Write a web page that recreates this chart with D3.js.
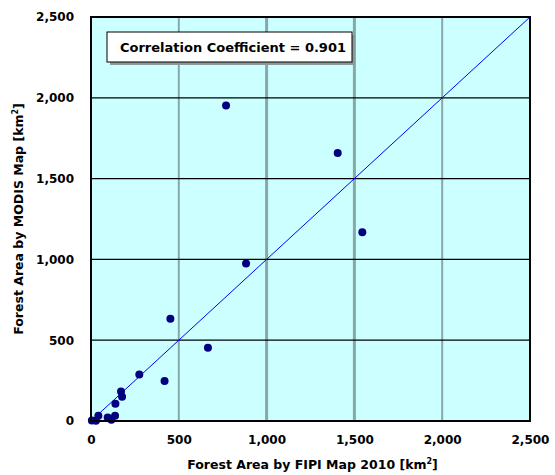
<!DOCTYPE html>
<html>
<head>
<meta charset="utf-8">
<script src="https://cdn.jsdelivr.net/npm/d3@7"></script>
<style>
  body { margin: 0; background: #fff; }
  svg text { font-family: "DejaVu Sans", Verdana, sans-serif; font-weight: bold; }
</style>
</head>
<body>
<div id="chart"></div>
<script>
// values (km2)
const fipiArea  = [5, 28, 42, 95, 116, 137, 139, 171, 177, 275, 419, 452, 666, 769, 883, 1405, 1545];
const modisArea = [3, 2, 33, 22, 8, 33, 107, 183, 150, 288, 248, 633, 454, 1952, 975, 1658, 1168];
const tickValues = [0, 500, 1000, 1500, 2000, 2500];
const corrText = "Correlation Coefficient = 0.901";

const points = fipiArea.map((x, i) => ({x: x, y: modisArea[i]}));

const width = 555, height = 475;
const margin = {top: 17, right: 25, bottom: 54, left: 91};
const innerWidth = width - margin.left - margin.right;
const innerHeight = height - margin.top - margin.bottom;

const svg = d3.select("#chart")
  .append("svg")
  .attr("width", width)
  .attr("height", height);

const innerChart = svg.append("g")
  .attr("transform", `translate(${margin.left},${margin.top})`);

const xScale = d3.scaleLinear().domain([0, 2500]).range([0, innerWidth]);
const yScale = d3.scaleLinear().domain([0, 2500]).range([innerHeight, 0]);

// plot background
innerChart.append("rect")
  .attr("width", innerWidth)
  .attr("height", innerHeight)
  .attr("fill", "#ccffff");

// vertical grid (greyish), horizontal grid (black)
innerChart.selectAll(".vgrid")
  .data(tickValues.slice(1, -1))
  .join("line")
    .attr("class", "vgrid")
    .attr("x1", d => xScale(d)).attr("x2", d => xScale(d))
    .attr("y1", 0).attr("y2", innerHeight)
    .attr("stroke", "#88a8a8")
    .attr("stroke-width", d => (d === 1000 || d === 1500) ? 3 : 2);

innerChart.selectAll(".hgrid")
  .data(tickValues.slice(1, -1))
  .join("line")
    .attr("class", "hgrid")
    .attr("x1", 0).attr("x2", innerWidth)
    .attr("y1", d => yScale(d)).attr("y2", d => yScale(d))
    .attr("stroke", "#000")
    .attr("stroke-width", 1.2);

// 1:1 line
innerChart.append("line")
  .attr("x1", xScale(0)).attr("y1", yScale(0))
  .attr("x2", xScale(2500)).attr("y2", yScale(2500))
  .attr("stroke", "#0000ff")
  .attr("stroke-width", 1);

// points
innerChart.selectAll("circle")
  .data(points)
  .join("circle")
    .attr("cx", d => xScale(d.x))
    .attr("cy", d => yScale(d.y))
    .attr("r", 4)
    .attr("fill", "#000080");

// frame
innerChart.append("rect")
  .attr("width", innerWidth)
  .attr("height", innerHeight)
  .attr("fill", "none")
  .attr("stroke", "#000")
  .attr("stroke-width", 2);

// axes (labels only)
const fmt = d3.format(",");
const xAxis = d3.axisBottom(xScale).tickValues(tickValues).tickFormat(fmt).tickSize(0).tickPadding(14);
const yAxis = d3.axisLeft(yScale).tickValues(tickValues).tickFormat(fmt).tickSize(0).tickPadding(17);

innerChart.append("g")
  .attr("class", "the-x-axis")
  .attr("transform", `translate(0,${innerHeight})`)
  .call(xAxis);

innerChart.append("g")
  .attr("class", "the-y-axis")
  .call(yAxis);

innerChart.selectAll(".the-x-axis text, .the-y-axis text")
  .style("font-size", "12px")
  .style("font-family", "DejaVu Sans, Verdana, sans-serif")
  .style("font-weight", "bold")
  .attr("fill", "#000");
innerChart.selectAll(".domain").remove();

// axis titles
const xTitle = svg.append("text")
  .attr("x", margin.left + innerWidth / 2 + 2)
  .attr("y", 469)
  .attr("text-anchor", "middle")
  .style("font-size", "12.5px");
xTitle.append("tspan").text("Forest Area by FIPI Map 2010 [km");
xTitle.append("tspan").attr("dy", -5).style("font-size", "8px").text("2");
xTitle.append("tspan").attr("dy", 5).text("]");

const yTitle = svg.append("text")
  .attr("transform", `translate(23,${margin.top + innerHeight / 2}) rotate(-90)`)
  .attr("text-anchor", "middle")
  .style("font-size", "12.5px");
yTitle.append("tspan").text("Forest Area by MODIS Map [km");
yTitle.append("tspan").attr("dy", -5).style("font-size", "8px").text("2");
yTitle.append("tspan").attr("dy", 5).text("]");

// correlation box with shadow
svg.append("rect")
  .attr("x", 110).attr("y", 35)
  .attr("width", 245).attr("height", 30)
  .attr("fill", "#8a9a9a");
svg.append("rect")
  .attr("x", 107).attr("y", 32)
  .attr("width", 245).attr("height", 30)
  .attr("fill", "#fff")
  .attr("stroke", "#000")
  .attr("stroke-width", 1);
svg.append("text")
  .attr("x", 233).attr("y", 47)
  .attr("text-anchor", "middle")
  .attr("dominant-baseline", "central")
  .style("font-size", "13px")
  .text(corrText);
</script>
</body>
</html>
